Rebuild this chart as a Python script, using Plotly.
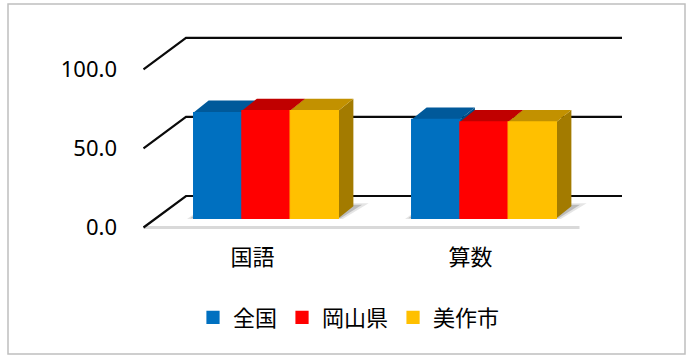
import plotly.graph_objects as go

# ---------------- data ----------------
categories = ["国語", "算数"]
series_names = ["全国", "岡山県", "美作市"]
zenkoku = [66.8, 62.5]
okayama = [68.0, 60.9]
mimasaka = [68.0, 60.9]
tick_values = [0, 50, 100]
tick_labels = ["0.0", "50.0", "100.0"]

# ---------------- styles ----------------
front_colors = ["#0070C0", "#FF0000", "#FFC000"]
top_colors = ["#00599A", "#C00000", "#C29100"]
side_colors = ["#004E86", "#A00000", "#A37B00"]

FIG_W, FIG_H = 688, 358
# front-plane pixel mapping (layout geometry)
CAT0_PX, CAT_STEP_PX = 252.5, 218.0
Y0_PX, PX_PER_UNIT = 227.5, 1.582
L, R, T, B = 142.0, 640.0, 24.0, 234.0

def u_of(px):
    return (px - CAT0_PX) / CAT_STEP_PX

def v_of(py):
    return (Y0_PX - py) / PX_PER_UNIT

x_range = [u_of(L), u_of(R)]
y_range = [v_of(B), v_of(T)]

# depth of the walls and of the bars
WALL_DX = 42.5 / CAT_STEP_PX
WALL_DY = 31.5 / PX_PER_UNIT
BAR_SX = 13.5 / CAT_STEP_PX
BAR_SY = 9.2 / PX_PER_UNIT
TOP_DX = 15.0 / CAT_STEP_PX
TOP_DY = 12.0 / PX_PER_UNIT

BARGAP = 0.336
n_series = len(series_names)
bar_w = (1 - BARGAP) / n_series

values = [zenkoku, okayama, mimasaka]

fig = go.Figure()
for j, (name, vals) in enumerate(zip(series_names, values)):
    fig.add_trace(go.Bar(
        name=name, x=list(range(len(categories))), y=vals,
        xaxis="x2", yaxis="y2",
        marker=dict(color=front_colors[j], line=dict(width=1.2, color=front_colors[j])),
        hovertemplate="%{y:.1f}<extra>" + name + "</extra>",
    ))

shapes = []
x_left, x_right = -0.5, len(categories) - 0.5

# floor front edge
shapes.append(dict(type="line", xref="x", yref="y", x0=x_left, y0=0, x1=x_right, y1=0,
                   line=dict(color="#D9D9D9", width=3), layer="below"))
# gridlines on side/back wall
for t in tick_values:
    shapes.append(dict(type="path", xref="x", yref="y",
                       path=f"M{x_left},{t} L{x_left + WALL_DX},{t + WALL_DY} L{x_right + WALL_DX},{t + WALL_DY}",
                       line=dict(color="#0A0A0A", width=2.2), layer="below"))

# shadows on floor
for i in range(len(categories)):
    gl = i - 1.5 * bar_w
    gr = i + 1.5 * bar_w
    shapes.append(dict(type="path", xref="x2", yref="y2",
                       path=f"M{gl - 0.03},{-0.5} L{gr + 0.02},{-0.5} L{gr + TOP_DX + 0.07},{TOP_DY + 2} L{gl + TOP_DX},{TOP_DY + 2} Z",
                       fillcolor="rgba(0,0,0,0.10)", line=dict(width=0), layer="below"))
    shapes.append(dict(type="path", xref="x2", yref="y2",
                       path=f"M{gl - 0.015},{0} L{gr + 0.01},{0} L{gr + TOP_DX + 0.04},{TOP_DY + 1} L{gl + TOP_DX},{TOP_DY + 1} Z",
                       fillcolor="rgba(0,0,0,0.18)", line=dict(width=0), layer="below"))

# side and top faces of each bar
for i in range(len(categories)):
    for j in range(n_series):
        h = values[j][i]
        x0 = i + (j - 1) * bar_w - bar_w / 2
        x1 = x0 + bar_w
        shapes.append(dict(type="path", xref="x2", yref="y2",
                           path=f"M{x1},0 L{x1},{h} L{x1 + TOP_DX},{h + TOP_DY} L{x1 + TOP_DX},{TOP_DY} Z",
                           fillcolor=side_colors[j], line=dict(width=0), layer="below"))
        shapes.append(dict(type="path", xref="x2", yref="y2",
                           path=f"M{x0},{h} L{x1},{h} L{x1 + TOP_DX},{h + TOP_DY} L{x0 + TOP_DX},{h + TOP_DY} Z",
                           fillcolor=top_colors[j], line=dict(width=0), layer="below"))

# outer border of the chart area
pw, ph = R - L, B - T
shapes.append(dict(type="rect", xref="paper", yref="paper",
                   x0=(8 - L) / pw, x1=(685 - L) / pw,
                   y0=(B - 354) / ph, y1=(B - 4) / ph,
                   line=dict(color="#BFBFBF", width=1.5), fillcolor="rgba(0,0,0,0)", layer="below"))

fig.update_layout(
    width=FIG_W, height=FIG_H,
    margin=dict(l=L, r=FIG_W - R, t=T, b=FIG_H - B, autoexpand=False),
    paper_bgcolor="white", plot_bgcolor="rgba(0,0,0,0)",
    barmode="group", bargap=BARGAP, bargroupgap=0,
    font=dict(family="Noto Sans CJK JP", color="#000000"),
    xaxis=dict(range=x_range, tickvals=list(range(len(categories))), ticktext=categories,
               showgrid=False, zeroline=False, showline=False, ticks="",
               tickfont=dict(family="Noto Sans CJK JP", size=22, color="#000000"),
               ticklabelstandoff=8, fixedrange=True),
    yaxis=dict(range=y_range, tickvals=tick_values, ticktext=tick_labels,
               showgrid=False, zeroline=False, showline=False, ticks="",
               tickfont=dict(family="Noto Sans", size=22, color="#000000"),
               ticklabelstandoff=24, fixedrange=True),
    xaxis2=dict(range=[x_range[0] - BAR_SX, x_range[1] - BAR_SX], overlaying="x", anchor="y2",
                visible=False, fixedrange=True),
    yaxis2=dict(range=[y_range[0] - BAR_SY, y_range[1] - BAR_SY], overlaying="y", anchor="x2",
                visible=False, fixedrange=True),
    shapes=shapes,
    showlegend=True,
    legend=dict(orientation="h", xref="container", yref="container",
                x=0.5 + 5 / FIG_W, xanchor="center", y=1 - 317.5 / FIG_H, yanchor="middle",
                font=dict(family="Noto Sans CJK JP", size=22, color="#000000"),
                bgcolor="rgba(0,0,0,0)", traceorder="normal"),
)

fig.write_html("out.html", config={"displayModeBar": False},
               post_script="document.body.style.margin='0px';")
